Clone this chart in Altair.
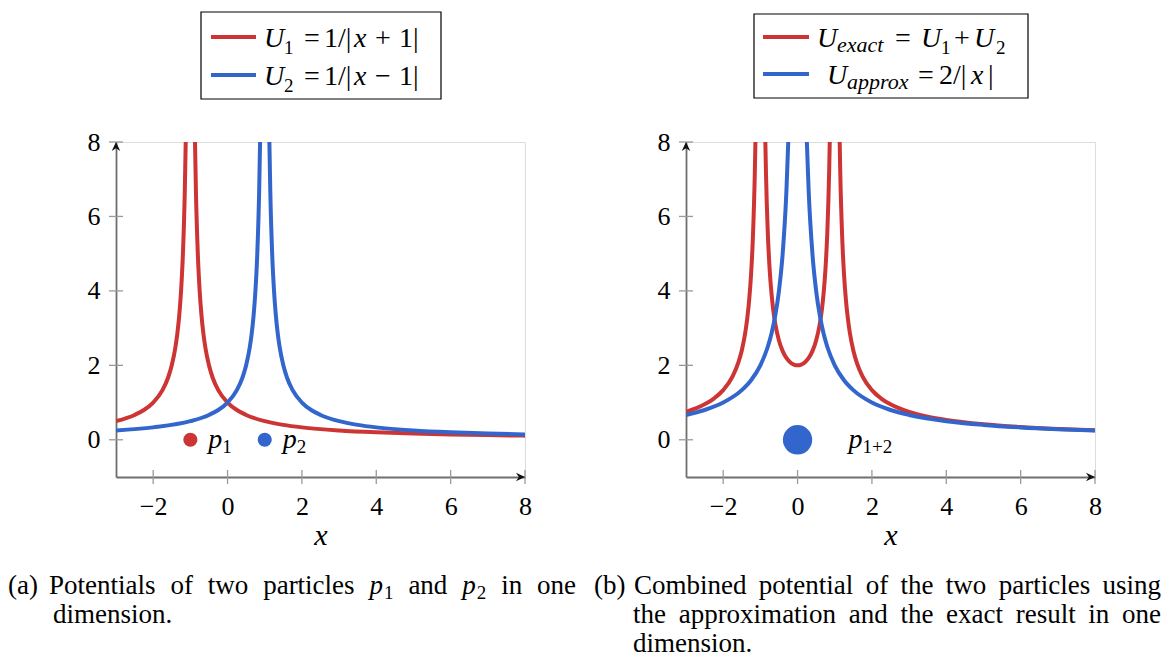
import altair as alt
import pandas as pd

SERIF = "Liberation Serif"
RED = "#cd3434"
BLUE = "#3366cc"
AX = "#6e6e6e"

# ---------------- data ----------------
# panel (a): U1 = 1/|x+1|
u1_left_x = [-3, -2.5, -2.25, -2, -1.75, -1.6, -1.5, -1.4, -1.35, -1.3, -1.25, -1.2, -1.15, -1.125]
u1_left_y = [0.5, 0.667, 0.8, 1.0, 1.333, 1.667, 2.0, 2.5, 2.857, 3.333, 4.0, 5.0, 6.667, 8.0]
u1_right_x = [-0.875, -0.85, -0.8, -0.75, -0.7, -0.65, -0.6, -0.5, -0.4, -0.25, 0, 0.25, 0.5, 1, 1.5, 2, 3, 4, 5, 6, 7, 8]
u1_right_y = [8.0, 6.667, 5.0, 4.0, 3.333, 2.857, 2.5, 2.0, 1.667, 1.333, 1.0, 0.8, 0.667, 0.5, 0.4, 0.333, 0.25, 0.2, 0.167, 0.143, 0.125, 0.111]
# panel (a): U2 = 1/|x-1|
u2_left_x = [-3, -2, -1, -0.5, -0.25, 0, 0.25, 0.4, 0.5, 0.6, 0.65, 0.7, 0.75, 0.8, 0.85, 0.875]
u2_left_y = [0.25, 0.333, 0.5, 0.667, 0.8, 1.0, 1.333, 1.667, 2.0, 2.5, 2.857, 3.333, 4.0, 5.0, 6.667, 8.0]
u2_right_x = [1.125, 1.15, 1.2, 1.25, 1.3, 1.35, 1.4, 1.5, 1.6, 1.75, 2, 2.25, 2.5, 3, 3.5, 4, 5, 6, 7, 8]
u2_right_y = [8.0, 6.667, 5.0, 4.0, 3.333, 2.857, 2.5, 2.0, 1.667, 1.333, 1.0, 0.8, 0.667, 0.5, 0.4, 0.333, 0.25, 0.2, 0.167, 0.143]
# panel (b): U_exact = U1 + U2
ue_left_x = [-3, -2.5, -2.25, -2, -1.75, -1.6, -1.5, -1.4, -1.35, -1.3, -1.25, -1.2, -1.15, -1.133]
ue_left_y = [0.75, 0.952, 1.108, 1.333, 1.697, 2.052, 2.4, 2.917, 3.283, 3.768, 4.444, 5.455, 7.132, 8.0]
ue_mid_x = [-0.866, -0.85, -0.8, -0.75, -0.7, -0.65, -0.6, -0.5, -0.4, -0.3, -0.2, -0.1, 0, 0.1, 0.2, 0.3, 0.4, 0.5, 0.6, 0.65, 0.7, 0.75, 0.8, 0.85, 0.866]
ue_mid_y = [8.0, 7.207, 5.556, 4.571, 3.922, 3.463, 3.125, 2.667, 2.381, 2.198, 2.083, 2.020, 2.0, 2.020, 2.083, 2.198, 2.381, 2.667, 3.125, 3.463, 3.922, 4.571, 5.556, 7.207, 8.0]
ue_right_x = [1.133, 1.15, 1.2, 1.25, 1.3, 1.35, 1.4, 1.5, 1.6, 1.75, 2, 2.25, 2.5, 3, 3.5, 4, 5, 6, 7, 8]
ue_right_y = [8.0, 7.132, 5.455, 4.444, 3.768, 3.283, 2.917, 2.4, 2.052, 1.697, 1.333, 1.108, 0.952, 0.75, 0.622, 0.533, 0.417, 0.343, 0.292, 0.254]
# panel (b): U_approx = 2/|x|
ua_left_x = [-3, -2.5, -2, -1.5, -1.25, -1, -0.8, -0.7, -0.6, -0.5, -0.4, -0.3, -0.25]
ua_left_y = [0.667, 0.8, 1.0, 1.333, 1.6, 2.0, 2.5, 2.857, 3.333, 4.0, 5.0, 6.667, 8.0]
ua_right_x = [0.25, 0.3, 0.4, 0.5, 0.6, 0.7, 0.8, 1, 1.25, 1.5, 2, 2.5, 3, 4, 5, 6, 7, 8]
ua_right_y = [8.0, 6.667, 5.0, 4.0, 3.333, 2.857, 2.5, 2.0, 1.6, 1.333, 1.0, 0.8, 0.667, 0.5, 0.4, 0.333, 0.286, 0.25]

# particles
pa_x = [-1, 1]
pa_y = [0, 0]
pa_color = [RED, BLUE]
pb_x = [0]
pb_y = [0]

x_ticks = [-2, 0, 2, 4, 6, 8]
y_ticks = [0, 2, 4, 6, 8]
x_domain = [-3, 8]
y_domain = [-1, 8]

caption_a_line1 = ["Potentials", "of", "two", "particles", "p_1", "and", "p_2", "in", "one"]
caption_a_line2 = "dimension."
caption_b_line1 = ["Combined", "potential", "of", "the", "two", "particles", "using"]
caption_b_line2 = ["the", "approximation", "and", "the", "exact", "result", "in", "one"]
caption_b_line3 = "dimension."

# ---------------- helpers ----------------
XS = alt.Scale(domain=x_domain, nice=False, zero=False)
YS = alt.Scale(domain=y_domain, nice=False, zero=False)
AXIS_X = alt.Axis(
    values=x_ticks, title="x", grid=False, ticks=False, tickSize=0,
    domainColor=AX, domainWidth=1.8, labelFont=SERIF, labelFontSize=26,
    labelColor="black", labelPadding=16, labelFlush=False,
    titleFont=SERIF, titleFontSize=30, titleFontStyle="italic",
    titleFontWeight="normal", titleColor="black", titlePadding=1)
AXIS_Y = alt.Axis(
    values=y_ticks, title=None, grid=False, ticks=False, tickSize=0,
    domainColor=AX, domainWidth=1.8, labelFont=SERIF, labelFontSize=26,
    labelColor="black", labelPadding=16, labelFlush=False)


def X():
    return alt.X("x:Q", scale=XS, axis=AXIS_X)


def Y():
    return alt.Y("y:Q", scale=YS, axis=AXIS_Y)


ONE = pd.DataFrame({"k": [0]})

# approximate Times-like advance widths (per 1000 em) used only to space caption words
TW = {'a': 444, 'b': 500, 'c': 444, 'd': 500, 'e': 444, 'f': 333, 'g': 500, 'h': 500,
      'i': 278, 'l': 278, 'm': 778, 'n': 500, 'o': 500, 'p': 500, 'r': 333, 's': 389,
      't': 278, 'u': 500, 'w': 722, 'x': 500, 'C': 667, 'P': 556, '.': 250,
      '1': 500, '2': 500}


def tw(s, size):
    return sum(TW.get(c, 500) for c in s) / 1000.0 * size


def curve_df(branches):
    rows = []
    for bi, (xs, ys) in enumerate(branches):
        for x, y in zip(xs, ys):
            rows.append({"x": x, "y": y, "branch": bi})
    return pd.DataFrame(rows)


def curve(branches, color):
    return alt.Chart(curve_df(branches)).mark_line(
        color=color, strokeWidth=4, interpolate="monotone", clip=True, strokeCap="butt"
    ).encode(x=X(), y=Y(), detail="branch:N", order="x:Q")


def ticks_layers():
    tx = alt.Chart(pd.DataFrame({"x": x_ticks, "y": [y_domain[0]] * len(x_ticks)})).mark_tick(
        orient="vertical", size=14, thickness=1.3, color="#9a9a9a", opacity=1
    ).encode(x=X(), y=Y())
    ty = alt.Chart(pd.DataFrame({"x": [x_domain[0]] * len(y_ticks), "y": y_ticks})).mark_tick(
        orient="horizontal", size=14, thickness=1.3, color="#9a9a9a", opacity=1
    ).encode(x=X(), y=Y())
    up = alt.Chart(pd.DataFrame({"x": [x_domain[0]], "y": [y_domain[1]]})).mark_point(
        shape="M0,0 L0.9,1.9 L0,1.3 L-0.9,1.9 Z", filled=True, size=90, color="#111", opacity=1
    ).encode(x=X(), y=Y())
    right = alt.Chart(pd.DataFrame({"x": [x_domain[1]], "y": [y_domain[0]]})).mark_point(
        shape="M0,0 L-1.9,-0.9 L-1.3,0 L-1.9,0.9 Z", filled=True, size=90, color="#111", opacity=1
    ).encode(x=X(), y=Y())
    return [tx, ty, up, right]


def frag(s, x, y, size, italic=False, align="left"):
    return alt.Chart(ONE).mark_text(
        text=s, align=align, baseline="alphabetic", font=SERIF, fontSize=size,
        fontStyle="italic" if italic else "normal", color="black"
    ).encode(x=alt.value(x), y=alt.value(y))


def box(x1, x2, y1, y2):
    return alt.Chart(ONE).mark_rect(
        fill="white", stroke="black", strokeWidth=1.2
    ).encode(x=alt.value(x1), x2=alt.value(x2), y=alt.value(y1), y2=alt.value(y2))


def sample(x1, x2, y, color):
    return alt.Chart(ONE).mark_rule(color=color, strokeWidth=4).encode(
        x=alt.value(x1), x2=alt.value(x2), y=alt.value(y))


def point_label(x, y, parts, dx0):
    layers = []
    for s, dx, dy, size, italic in parts:
        layers.append(alt.Chart(pd.DataFrame({"x": [x], "y": [y]})).mark_text(
            text=s, align="left", baseline="alphabetic", font=SERIF, fontSize=size,
            fontStyle="italic" if italic else "normal", color="black",
            dx=dx0 + dx, dy=dy
        ).encode(x=X(), y=Y()))
    return layers


LF = 28   # legend font
SF = 19   # legend digit subscript font
WF = 22   # legend word subscript font
CF = 27   # caption font
CS = 19   # caption subscript font


def word_parts(w):
    # "p_1" -> italic p with a subscript
    if "_" in w:
        base, sub = w.split("_")
        return [(base, CF, True, 0, 0.0), (sub, CS, False, 5, tw(base, CF) + 1)]
    return [(w, CF, False, 0, 0.0)]


def word_width(w):
    if "_" in w:
        base, sub = w.split("_")
        return tw(base, CF) + 1 + tw(sub, CS)
    return tw(w, CF)


def justified(words, x0, x1, y):
    widths = [word_width(w) for w in words]
    gap = (x1 - x0 - sum(widths)) / (len(words) - 1)
    layers = []
    x = x0
    for i, w in enumerate(words):
        for s, size, it, dy, off in word_parts(w):
            if i == len(words) - 1 and "_" not in w:
                layers.append(frag(s, x1, y + dy, size, it, align="right"))
            else:
                layers.append(frag(s, x + off, y + dy, size, it))
        x += widths[i] + gap
    return layers


# ---------------- panel (a) ----------------
pts_a = alt.Chart(pd.DataFrame({"x": pa_x, "y": pa_y, "c": pa_color})).mark_circle(
    size=200, opacity=1
).encode(x=X(), y=Y(), color=alt.Color("c:N", scale=None))

left_layers = [curve([(u1_left_x, u1_left_y), (u1_right_x, u1_right_y)], RED),
               curve([(u2_left_x, u2_left_y), (u2_right_x, u2_right_y)], BLUE)]
left_layers += ticks_layers()
left_layers.append(pts_a)
left_layers += point_label(pa_x[0], pa_y[0], [("p", 0, 8, 28, True), ("1", 14, 13, 19, False)], 18)
left_layers += point_label(pa_x[1], pa_y[1], [("p", 0, 8, 28, True), ("2", 14, 13, 19, False)], 18)
# legend (a)
left_layers += [
    box(85, 325, -130, -43),
    sample(95, 140, -105, RED), sample(95, 140, -67, BLUE),
    frag("U", 148, -95, LF, True), frag("1", 168, -88, SF), frag("=", 188, -95, LF),
    frag("1/|", 208, -95, LF), frag("x", 238, -95, LF, True), frag("+", 259, -95, LF),
    frag("1|", 283, -95, LF),
    frag("U", 148, -57, LF, True), frag("2", 168, -50, SF), frag("=", 188, -57, LF),
    frag("1/|", 208, -57, LF), frag("x", 238, -57, LF, True), frag("\u2212", 259, -57, LF),
    frag("1|", 283, -57, LF),
]
# caption (a)
left_layers += [frag("(a)", -108, 452, CF)]
left_layers += justified(caption_a_line1, -67, 460, 452)
left_layers += [frag(caption_a_line2, -63, 481, CF)]
left = alt.layer(*left_layers).properties(width=409, height=335)

# ---------------- panel (b) ----------------
pts_b = alt.Chart(pd.DataFrame({"x": pb_x, "y": pb_y})).mark_circle(
    size=860, opacity=1, color=BLUE
).encode(x=X(), y=Y())

right_layers = [curve([(ue_left_x, ue_left_y), (ue_mid_x, ue_mid_y), (ue_right_x, ue_right_y)], RED),
                curve([(ua_left_x, ua_left_y), (ua_right_x, ua_right_y)], BLUE)]
right_layers += ticks_layers()
right_layers.append(pts_b)
right_layers += point_label(pb_x[0], pb_y[0], [("p", 0, 8, 28, True), ("1+2", 14, 13, 19, False)], 51)
right_layers += [
    box(68, 342, -128, -44),
    sample(77, 123, -105, RED), sample(77, 123, -68, BLUE),
    frag("U", 131, -95, LF, True), frag("exact", 151, -90, WF, True), frag("=", 209, -95, LF),
    frag("U", 235, -95, LF, True), frag("1", 255, -88, SF), frag("+", 268, -95, LF),
    frag("U", 288, -95, LF, True), frag("2", 310, -88, SF),
    frag("U", 141, -58, LF, True), frag("approx", 161, -53, WF, True), frag("=", 232, -58, LF),
    frag("2/|", 253, -58, LF), frag("x", 285, -58, LF, True), frag("|", 302, -58, LF),
]
right_layers += [frag("(b)", -92, 452, CF)]
right_layers += justified(caption_b_line1, -52, 475, 452)
right_layers += justified(caption_b_line2, -53, 475, 481)
right_layers += [frag(caption_b_line3, -53, 510, CF)]
right = alt.layer(*right_layers).properties(width=409, height=335)

chart = alt.hconcat(left, right, spacing=161, bounds="flush").properties(
    padding={"left": 7, "top": 10, "right": 2, "bottom": 2}
).configure_view(strokeWidth=0).configure(background="white")

chart.save("out.html", embed_options={"renderer": "svg", "actions": False})
